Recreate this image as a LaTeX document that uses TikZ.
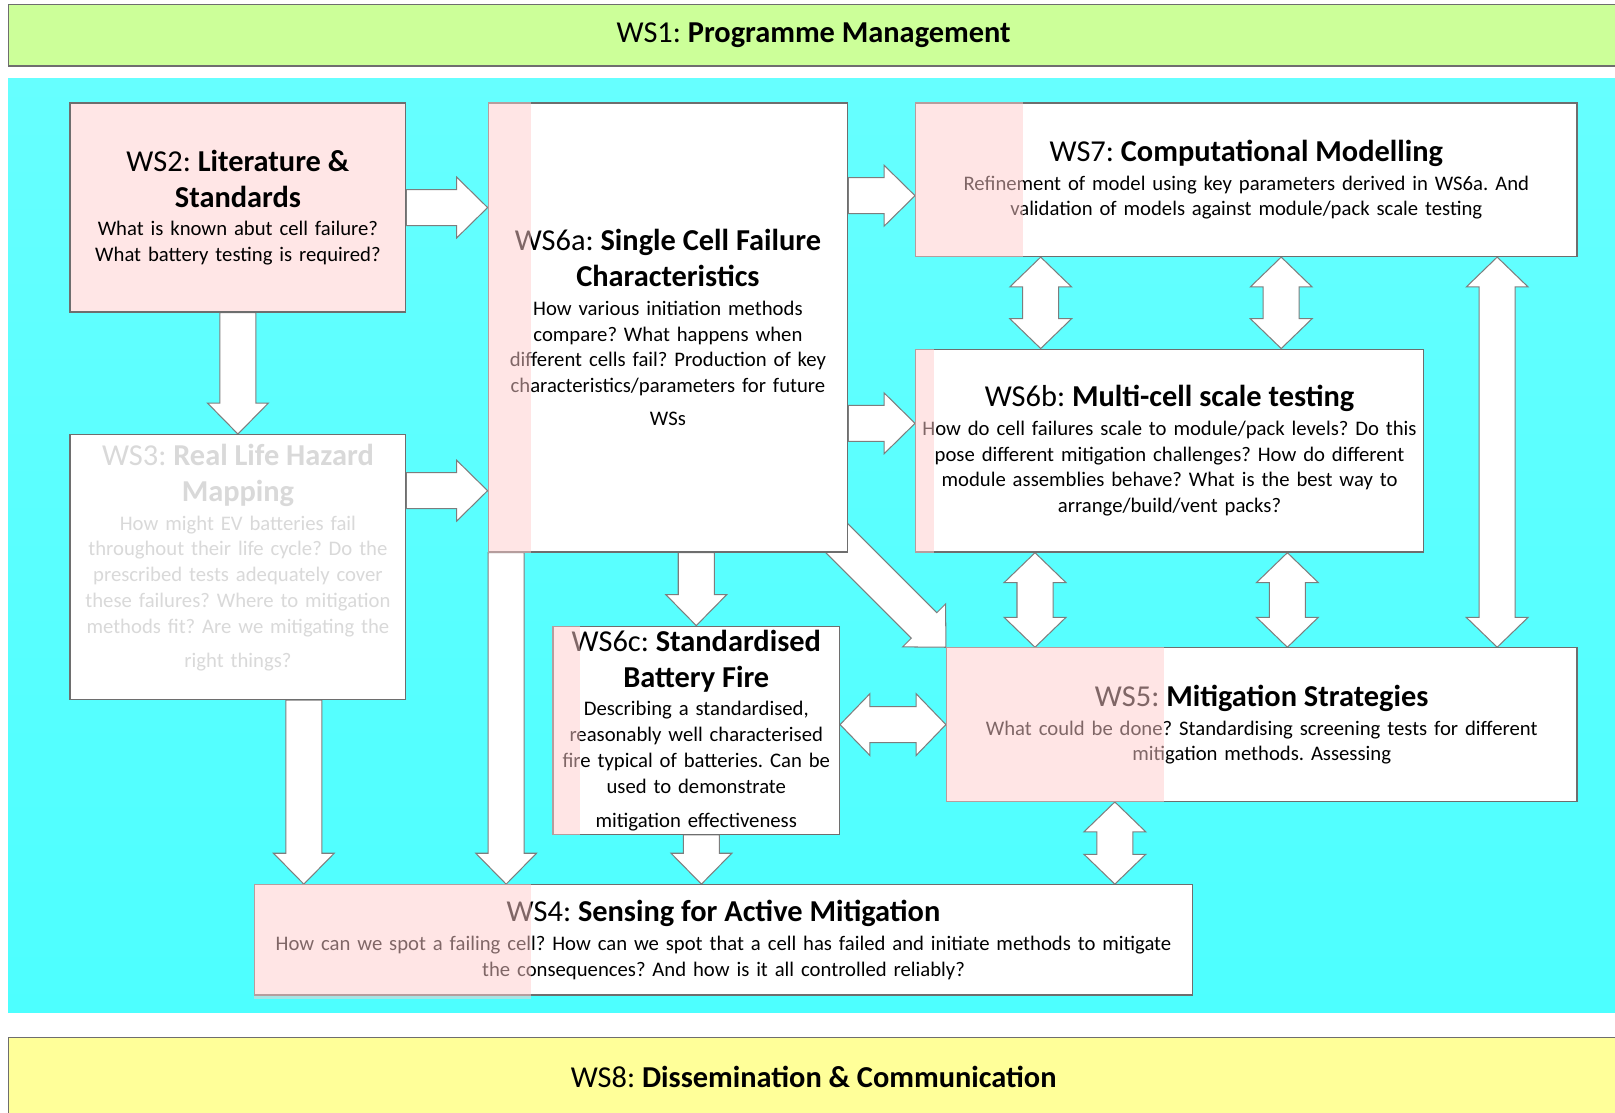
\documentclass[tikz,border=0pt]{standalone}
\usepackage{fontspec}
\setmainfont{Carlito}
\usetikzlibrary{calc,positioning}

\definecolor{wsgreen}{RGB}{204,255,153}
\definecolor{wsyellow}{RGB}{255,255,153}
\definecolor{cyantop}{RGB}{102,255,255}
\definecolor{cyanbot}{RGB}{77,255,255}
\definecolor{boxgray}{RGB}{110,110,110}
\definecolor{arrgray}{RGB}{125,125,125}
\definecolor{wspink}{RGB}{255,230,230}
\definecolor{veilpink}{RGB}{255,205,205}
\definecolor{fadegray}{RGB}{217,217,217}

\pgfdeclarelayer{bg}
\pgfdeclarelayer{arr}
\pgfsetlayers{bg,arr,main}

% block arrow, tip at #2
\newcommand{\blockarrow}[2]{%
  \coordinate (ba-a) at #1;
  \coordinate (ba-b) at #2;
  \coordinate (ba-c) at ($(ba-b)!30pt!(ba-a)$);
  \draw[arrowbox] ($(ba-a)!17.5pt!90:(ba-b)$) -- ($(ba-c)!17.5pt!-90:(ba-a)$)
    -- ($(ba-c)!29.5pt!-90:(ba-a)$) -- (ba-b) -- ($(ba-c)!29.5pt!90:(ba-a)$)
    -- ($(ba-c)!17.5pt!90:(ba-a)$) -- ($(ba-a)!17.5pt!-90:(ba-b)$) -- cycle;
}
% block arrow with two heads
\newcommand{\dblarrow}[2]{%
  \coordinate (da-a) at #1;
  \coordinate (da-b) at #2;
  \coordinate (da-c) at ($(da-a)!29pt!(da-b)$);
  \coordinate (da-d) at ($(da-b)!29pt!(da-a)$);
  \draw[arrowbox] (da-a) -- ($(da-c)!30pt!90:(da-b)$) -- ($(da-c)!17.5pt!90:(da-b)$)
    -- ($(da-d)!17.5pt!-90:(da-a)$) -- ($(da-d)!30pt!-90:(da-a)$) -- (da-b)
    -- ($(da-d)!30pt!90:(da-a)$) -- ($(da-d)!17.5pt!90:(da-a)$)
    -- ($(da-c)!17.5pt!-90:(da-b)$) -- ($(da-c)!30pt!-90:(da-b)$) -- cycle;
}
\newcommand{\wshead}[1]{{\fontsize{29.5}{35}\selectfont #1\par}\vspace{3pt}}
\frenchspacing

\begin{document}
\begin{tikzpicture}[x=1pt,y=-1pt,font=\fontsize{20.1}{25}\selectfont,
	wsbox/.style={draw=boxgray,line width=1.2pt,fill=white,inner sep=2pt,align=center},
	wsbar/.style={draw=boxgray,line width=1.2pt,inner sep=0pt},
	arrowbox/.style={draw=arrgray,line width=1pt,fill=white,line join=miter},
	veil/.style={fill=veilpink,fill opacity=0.5}]

	\useasboundingbox (0,0) rectangle (1568,1080);

	\begin{pgfonlayer}{bg}
		\shade[top color=cyantop,bottom color=cyanbot] (8,76) rectangle (1580,983);
	\end{pgfonlayer}

	\node[wsbar,fill=wsgreen,minimum width=1564pt,minimum height=60pt] (ws1) at (790,34)
		{\fontsize{29.5}{35}\selectfont WS1: \textbf{Programme Management}};
	\node[wsbar,fill=wsyellow,minimum width=1564pt,minimum height=78pt] (ws8) at (790,1046)
		{\fontsize{29.5}{35}\selectfont WS8: \textbf{Dissemination \& Communication}};

	\node[wsbox,fill=wspink,minimum width=326pt,minimum height=203pt,text width=316pt] (ws2) at (231,201.5)
		{\wshead{WS2: \textbf{Literature \&}\\ \textbf{Standards}}
		What is known abut cell failure?\\ What battery testing is required?};
	\node[wsbox,minimum width=326pt,minimum height=257pt] (ws3) at (231,550.5) {};
	\node[align=center,text=fadegray,text width=316pt] (ws3-txt) at (231,541)
		{\wshead{WS3: \textbf{Real Life Hazard}\\ \textbf{Mapping}}
		How might EV batteries fail\\ throughout their life cycle? Do the\\ prescribed tests adequately cover\\
		these failures? Where to mitigation\\ methods fit? Are we mitigating the\\[8pt] right things?};
	\node[wsbox,minimum width=349pt,minimum height=436pt,text width=339pt] (ws6a) at (648.5,318)
		{\wshead{WS6a: \textbf{Single Cell Failure}\\ \textbf{Characteristics}}
		How various initiation methods\\ compare? What happens when\\ different cells fail? Production of key\\
		characteristics/parameters for future\\[7pt] WSs};
	\node[wsbox,minimum width=642pt,minimum height=149pt,text width=632pt] (ws7) at (1210,174.5)
		{\wshead{WS7: \textbf{Computational Modelling}}
		Refinement of model using key parameters derived in WS6a. And\\ validation of models against module/pack scale testing};
	\node[wsbox,minimum width=493pt,minimum height=197pt,text width=489pt] (ws6b) at (1135.5,437.5)
		{\wshead{WS6b: \textbf{Multi-cell scale testing}}
		How do cell failures scale to module/pack levels? Do this\\ pose different mitigation challenges? How do different\\
		module assemblies behave? What is the best way to\\ arrange/build/vent packs?};
	\node[wsbox,minimum width=278pt,minimum height=202pt,text width=274pt] (ws6c) at (676,709)
		{\wshead{WS6c: \textbf{Standardised}\\ \textbf{Battery Fire}}
		Describing a standardised,\\ reasonably well characterised\\ fire typical of batteries. Can be\\
		used to demonstrate\\[8pt] mitigation effectiveness};
	\node[wsbox,minimum width=612pt,minimum height=149pt,text width=602pt] (ws5) at (1225,703.5)
		{\wshead{WS5: \textbf{Mitigation Strategies}}
		What could be done? Standardising screening tests for different\\ mitigation methods. Assessing};
	\node[wsbox,minimum width=911pt,minimum height=107pt,text width=905pt] (ws4) at (702.5,912.5)
		{\wshead{WS4: \textbf{Sensing for Active Mitigation}}
		How can we spot a failing cell? How can we spot that a cell has failed and initiate methods to mitigate\\
		the consequences? And how is it all controlled reliably?};

	% block arrows
	\begin{pgfonlayer}{arr}
		\coordinate (ws3-out) at ([yshift=-55pt]ws3.north east);
		\coordinate (ws3-down) at ([xshift=64pt]ws3.south);
		\coordinate (ws6a-down) at ([xshift=18pt]ws6a.south west);
		\coordinate (ws6c-down) at ([xshift=5pt]ws6c.south);
		\coordinate (ws7-in) at ([yshift=-15.5pt]ws7.west);
		\coordinate (ws6b-in) at ([yshift=26.5pt]ws6b.west);
		\coordinate (ws6a-diag) at ([xshift=-18pt,yshift=21pt]ws6a.south east);
		\blockarrow{(ws2.east)}{(ws6a.west |- ws2.east)}
		\blockarrow{(ws3-out)}{(ws6a.west |- ws3-out)}
		\blockarrow{(ws2.south)}{(ws3.north)}
		\blockarrow{(ws3-down)}{(ws3-down |- ws4.north)}
		\blockarrow{(ws6a-down)}{(ws6a-down |- ws4.north)}
		\blockarrow{(ws6c.north |- ws6a.south)}{(ws6c.north)}
		\blockarrow{(ws6c-down)}{(ws6c-down |- ws4.north)}
		\blockarrow{(ws6a.east |- ws7-in)}{(ws7-in)}
		\blockarrow{(ws6a.east |- ws6b-in)}{(ws6b-in)}
		\blockarrow{(ws6a-diag)}{(ws5.north west)}

		\coordinate (m1) at ([xshift=122pt]ws6b.north west);
		\coordinate (m2) at ([xshift=355.5pt]ws6b.north west);
		\coordinate (m3) at ([xshift=116.5pt]ws6b.south west);
		\coordinate (m4) at ([xshift=361.5pt]ws6b.south west);
		\coordinate (m5) at ([xshift=-78pt]ws7.south east);
		\coordinate (m6) at ([xshift=164pt]ws5.south west);
		\dblarrow{(m1 |- ws7.south)}{(m1)}
		\dblarrow{(m2 |- ws7.south)}{(m2)}
		\dblarrow{(m3)}{(m3 |- ws5.north)}
		\dblarrow{(m4)}{(m4 |- ws5.north)}
		\dblarrow{(m5)}{(m5 |- ws5.north)}
		\dblarrow{(ws6c.east |- ws5.west)}{(ws5.west)}
		\dblarrow{(m6)}{(m6 |- ws4.north)}
	\end{pgfonlayer}

	% pink strips over the boxes
	\fill[veil] (ws6a.north west) rectangle ([xshift=42pt]ws6a.south west);
	\fill[veil] (ws7.north west) rectangle ([xshift=105pt]ws7.south west);
	\fill[veil] (ws6b.north west) rectangle ([xshift=18pt]ws6b.south west);
	\fill[veil] (ws6c.north west) rectangle ([xshift=27pt]ws6c.south west);
	\fill[veil] (ws5.north west) rectangle ([xshift=212pt]ws5.south west);
	\fill[veil] (ws4.north west) rectangle ([xshift=269pt,yshift=-3pt]ws4.south west);

\end{tikzpicture}
\end{document}
